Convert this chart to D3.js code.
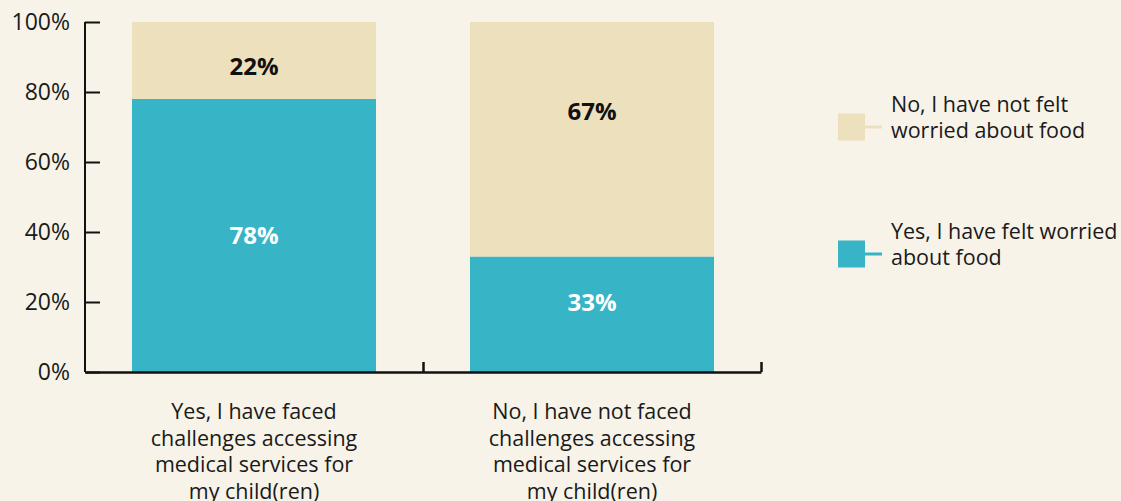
<!DOCTYPE html>
<html>
<head>
<meta charset="utf-8">
<script src="https://cdn.jsdelivr.net/npm/d3@7"></script>
<style>
	body { margin: 0; background: #f7f3e8; }
	svg { display: block; font-family: "Open Sans", sans-serif; }
</style>
</head>
<body>
<div id="chart"></div>
<script>

// data
var categories = [
	["Yes, I have faced", "challenges accessing", "medical services for", "my child(ren)"],
	["No, I have not faced", "challenges accessing", "medical services for", "my child(ren)"]
];
var seriesNames = [
	["Yes, I have felt worried", "about food"],
	["No, I have not felt", "worried about food"]
];
var worried = [78, 33];
var notWorried = [22, 67];
var yTicks = [0, 20, 40, 60, 80, 100];

var colors = ["#37b5c6", "#ede0bc"];
var labelColors = ["#ffffff", "#111111"];
// where the value label sits inside its segment (0 = top, 1 = bottom)
var labelFrac = [[0.50, 0.40], [0.58, 0.38]];

var width = 1121, height = 501;
var margin = { top: 22, left: 85, right: 360, bottom: 129 };

var svg = d3.select("#chart").append("svg")
	.attr("width", width)
	.attr("height", height);

var x = d3.scaleBand()
	.domain([0, 1])
	.range([margin.left, width - margin.right])
	.paddingInner(0.278)
	.paddingOuter(0.139);

var y = d3.scaleLinear()
	.domain([0, 100])
	.range([height - margin.bottom, margin.top]);

// stacked series
var stack = [worried, notWorried];
var g = svg.append("g");

stack.forEach(function(vals, s) {
	vals.forEach(function(v, i) {
		var base = s == 0 ? 0 : worried[i];
		var y0 = y(base), y1 = y(base + v);
		g.append("rect")
			.attr("x", x(i))
			.attr("y", y1)
			.attr("width", x.bandwidth())
			.attr("height", y0 - y1)
			.attr("fill", colors[s]);
		g.append("text")
			.attr("x", x(i) + x.bandwidth() / 2)
			.attr("y", y1 + (y0 - y1) * labelFrac[s][i])
			.attr("dy", "0.35em")
			.attr("text-anchor", "middle")
			.style("font-size", "24px")
			.style("font-weight", "bold")
			.attr("fill", labelColors[s])
			.text(v + "%");
	});
});

// y axis
var yAxis = d3.axisRight(y)
	.tickValues(yTicks)
	.tickSize(15)
	.tickFormat(function(d) { return d + "%"; });

var ya = svg.append("g")
	.attr("transform", "translate(" + margin.left + ",0)")
	.call(yAxis);
ya.select(".domain").attr("stroke", "#111").attr("stroke-width", 2)
	.attr("d", "M0," + y(100) + "V" + y(0));
ya.selectAll(".tick line").attr("stroke", "#111").attr("stroke-width", 2);
ya.selectAll(".tick text")
	.attr("x", -15)
	.attr("text-anchor", "end")
	.attr("fill", "#1a1a1a")
	.style("font-size", "23px")
	.style("font-family", "Open Sans, sans-serif");

// x axis: ticks between the categories, pointing up
var xEdges = [margin.left, (x(0) + x.bandwidth() + x(1)) / 2, width - margin.right];
var xLin = d3.scaleLinear().domain([0, 2]).range([xEdges[0], xEdges[2]]);
var xAxis = d3.axisTop(xLin)
	.tickValues([1, 2])
	.tickSize(10)
	.tickSizeOuter(0)
	.tickFormat("");
var xa = svg.append("g")
	.attr("transform", "translate(0," + y(0) + ")")
	.call(xAxis);
xa.select(".domain").attr("stroke", "#111").attr("stroke-width", 2.5);
xa.selectAll(".tick line").attr("stroke", "#111").attr("stroke-width", 2.5);

// category labels
categories.forEach(function(lines, i) {
	var t = svg.append("text")
		.attr("text-anchor", "middle")
		.attr("fill", "#1a1a1a")
		.style("font-size", "21.5px");
	lines.forEach(function(line, j) {
		t.append("tspan")
			.attr("x", x(i) + x.bandwidth() / 2)
			.attr("y", 419 + j * 26.5)
			.text(line);
	});
});

// legend (top entry is the upper segment)
var legendY = [127, 254];
[1, 0].forEach(function(s, k) {
	var lg = svg.append("g").attr("transform", "translate(838," + legendY[k] + ")");
	lg.append("rect")
		.attr("x", 0).attr("y", -13.5)
		.attr("width", 27).attr("height", 27)
		.attr("fill", colors[s]);
	lg.append("line")
		.attr("x1", 27).attr("x2", 44)
		.attr("y1", 0).attr("y2", 0)
		.attr("stroke", colors[s]).attr("stroke-width", 3);
	var t = lg.append("text")
		.attr("fill", "#1a1a1a")
		.style("font-size", "21.5px");
	seriesNames[s].forEach(function(line, j) {
		t.append("tspan")
			.attr("x", 53)
			.attr("y", -15 + j * 25.5)
			.text(line);
	});
});

</script>
</body>
</html>
